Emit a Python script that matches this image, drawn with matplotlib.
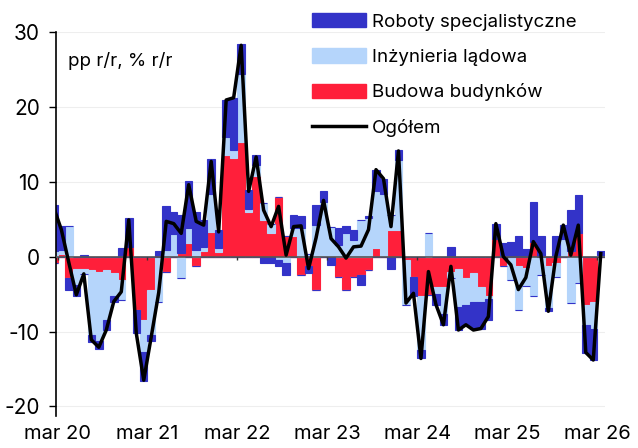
import numpy as np
import matplotlib
matplotlib.use("Agg")
from matplotlib import pyplot as plt
from matplotlib.patches import Patch
from matplotlib.lines import Line2D

# monthly, Feb 2020 .. Mar 2026 (pp r/r contributions and total % r/r)
budowa_budynkow = [
    -0.8, 0.4, -2.9, -1.6, -1.6, -1.8, -2.0, -1.8, -2.2, -3.1, 1.3, -7.1, -8.4,
    -4.4, 0.0, -2.0, 0.0, 0.5, 1.8, -1.3, 0.7, 3.3, 0.6, 13.6, 13.1, 15.3,
    6.0, 10.7, 4.9, 3.1, 7.9, 2.7, 2.7, -2.4, -1.2, -4.4, 0.0, 0.0, -2.7,
    -4.4, -2.7, -2.4, -1.8, 1.1, 0.0, 3.6, 3.6, -0.5, -2.7, -5.3, -5.1, -4.0,
    -4.0, -2.0, -1.6, -2.9, -2.2, -4.0, -5.3, 2.4, -1.3, 0.0, -1.3, -1.5, 2.0,
    0.0, -1.3, -0.8, 0.0, 0.8, 3.1, -6.4, -6.0, 0.0]
inzynieria_ladowa = [
    0.8, 0.5, 4.1, -2.2, -0.7, -8.7, -9.3, -6.7, -3.1, -2.7, 0.0, 0.0, -4.3,
    -6.0, -6.0, 0.9, 3.0, -2.9, 2.0, 0.9, 0.6, 5.1, 0.6, 2.4, 1.1, 9.1,
    0.4, 1.5, 2.2, 1.3, -0.5, -0.9, 1.1, 3.8, 0.3, 4.2, 7.3, 4.0, 1.6,
    3.1, 2.2, 4.9, 5.1, 7.6, 8.4, 2.0, 9.3, -6.0, 0.0, -7.1, 3.1, -1.0,
    -3.6, -0.8, -5.1, -3.6, -3.8, -2.0, -0.4, 0.0, 0.0, -3.1, -5.8, -2.4, -5.3,
    -2.4, -5.6, -1.9, 2.4, -6.2, -3.5, -2.7, -3.6, 0.2]
roboty_specjalistyczne = [
    6.1, 3.2, -1.5, -1.5, 0.2, -0.9, -1.0, -1.3, -0.8, 1.2, 3.9, -3.1, -3.9,
    -0.9, 0.7, 5.9, 3.0, 5.0, 6.3, 5.0, 3.6, 4.6, 2.3, 4.9, 7.0, 4.0,
    2.5, 1.4, -0.9, -0.9, -0.7, -1.6, 1.8, 1.6, -1.0, 2.7, 1.4, -1.1, 2.2,
    1.0, 1.4, -1.4, 0.3, 2.9, 2.0, -1.6, 1.3, 0.0, -2.6, -1.1, 0.0, -1.4,
    -1.5, 1.3, -3.1, -2.6, -3.6, -3.6, -2.7, 2.0, 1.8, 2.0, 2.8, 1.0, 5.3,
    2.8, -0.4, 2.7, 1.8, 5.4, 5.1, -3.8, -4.2, 0.5]
ogolem = [
    6.5, 3.6, -0.8, -5.1, -2.3, -11.1, -12.1, -9.8, -6.0, -4.7, 4.9, -10.2, -16.5,
    -10.7, -4.8, 4.7, 4.4, 3.1, 9.6, 4.7, 4.2, 12.7, 3.3, 20.9, 21.2, 28.2,
    8.7, 13.3, 6.2, 4.0, 6.7, 0.2, 4.0, 4.1, -1.6, 2.5, 7.5, 2.4, 1.3,
    -0.2, 1.3, 1.4, 3.6, 11.6, 10.4, 4.0, 14.1, -6.2, -4.9, -13.6, -2.0, -6.4,
    -9.1, -1.3, -9.8, -9.1, -9.8, -9.6, -8.0, 4.4, 0.0, -1.1, -4.4, -2.8, 2.0,
    0.4, -7.3, 0.0, 4.2, 0.2, 4.2, -12.8, -13.8, 0.4]

tick_labels = ["mar 20", "mar 21", "mar 22", "mar 23", "mar 24", "mar 25", "mar 26"]

series = [
    ("Budowa budynków", budowa_budynkow, "#FF1F3A"),
    ("Inżynieria lądowa", inzynieria_ladowa, "#B5D5FB"),
    ("Roboty specjalistyczne", roboty_specjalistyczne, "#3333C8"),
]

plt.rcParams['font.family'] = ['Inter', 'DejaVu Sans']

x = np.arange(len(ogolem)) - 0.5  # Mar 2020 bar sits in [0, 1]

fig = plt.figure(figsize=(6.38, 4.48), dpi=100)
ax = fig.add_axes([0.0885, 0.071, 0.859, 0.858])

pos_base = np.zeros(len(x))
neg_base = np.zeros(len(x))
for name, vals, col in series:
    v = np.array(vals)
    pos = np.where(v > 0, v, 0)
    neg = np.where(v < 0, v, 0)
    ax.bar(x, pos, width=1.0, bottom=pos_base, color=col, edgecolor=col,
           linewidth=0.8, zorder=2)
    ax.bar(x, neg, width=1.0, bottom=neg_base, color=col, edgecolor=col,
           linewidth=0.8, zorder=2)
    pos_base += pos
    neg_base += neg

ax.axhline(0, color="#555555", lw=1.2, zorder=3)
ax.plot(x, ogolem, color="black", lw=2.5, zorder=4)

# small ticks on the zero line
tick_pos = np.arange(0, 73, 12)
ax.vlines(tick_pos, -0.45, 0, color="#333333", lw=1, zorder=3)

ax.set_xlim(-0.15, 73)
ax.set_ylim(-21.3, 30)
ax.set_yticks([-20, -10, 0, 10, 20, 30])
ax.set_yticklabels(["-20", "-10", "0", "10", "20", "30"])
ax.set_xticks(tick_pos)
ax.set_xticklabels(tick_labels)
ax.tick_params(axis="x", length=0, pad=6, labelsize=14.5)
ax.tick_params(axis="y", length=5, width=1, labelsize=15, pad=7)
ax.grid(axis="y", color="#eeeeee", lw=0.8, zorder=0)
for s in ["top", "right", "bottom"]:
    ax.spines[s].set_visible(False)
ax.spines["left"].set_linewidth(1.2)

ax.text(0.021, 0.912, "pp r/r, % r/r", transform=ax.transAxes, fontsize=13.5)

handles = [
    Patch(facecolor="#3333C8", edgecolor="#3333C8"),
    Patch(facecolor="#B5D5FB", edgecolor="#B5D5FB"),
    Patch(facecolor="#FF1F3A", edgecolor="#FF1F3A"),
    Line2D([0], [0], color="black", lw=2.5),
]
labels = ["Roboty specjalistyczne", "Inżynieria lądowa", "Budowa budynków", "Ogółem"]
fig.legend(handles, labels, loc="upper left", bbox_to_anchor=(0.4685, 1.0),
           frameon=False, fontsize=13.5, handlelength=2.9, handleheight=0.8,
           handletextpad=0.3, labelspacing=0.93, borderaxespad=0.3)

fig.savefig("out.png", dpi=100)
